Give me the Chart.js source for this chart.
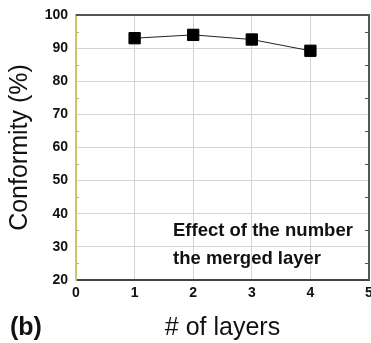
<!DOCTYPE html>
<html><head><meta charset="utf-8">
<script src="https://cdn.jsdelivr.net/npm/chart.js@4/dist/chart.umd.min.js"></script>
<style>html,body{margin:0;padding:0;background:#fff}#wrap{width:371px;height:343px}</style>
</head><body><div id="wrap"><canvas id="c" width="371" height="343"></canvas></div>
<script>
const layers = [1, 2, 3, 4];
const conformity = [93.0, 94.0, 92.6, 89.2];
const xTicks = [0, 1, 2, 3, 4, 5];
const yTicks = [20, 30, 40, 50, 60, 70, 80, 90, 100];
const xTitle = '# of layers';
const yTitle = 'Conformity (%)';
const panelLabel = '(b)';
const noteLines = ['Effect of the number', 'the merged layer'];

const decor = {
  id: 'decor',
  afterDraw(chart) {
    const {ctx, chartArea: a, scales: {x, y}} = chart;
    ctx.save();
    // top and right frame
    ctx.strokeStyle = '#555';
    ctx.lineWidth = 2;
    ctx.beginPath();
    ctx.moveTo(a.left, a.top); ctx.lineTo(a.right, a.top); ctx.lineTo(a.right, a.bottom);
    ctx.stroke();
    // minor ticks
    ctx.lineWidth = 1;
    for (let v = 25; v < 100; v += 10) {
      const py = Math.round(y.getPixelForValue(v)) + 0.5;
      ctx.strokeStyle = '#b8b860';
      ctx.beginPath(); ctx.moveTo(a.left, py); ctx.lineTo(a.left + 3, py); ctx.stroke();
      ctx.strokeStyle = '#555';
      ctx.beginPath(); ctx.moveTo(a.right - 4, py); ctx.lineTo(a.right, py); ctx.stroke();
    }
    // note text
    ctx.fillStyle = '#111';
    ctx.font = 'bold 18.5px "Liberation Sans", Arial, sans-serif';
    ctx.textAlign = 'left';
    ctx.textBaseline = 'middle';
    ctx.fillText(noteLines[0], 173, 231);
    ctx.fillText(noteLines[1], 173, 259);
    // axis titles
    ctx.font = '25px "Liberation Sans", Arial, sans-serif';
    ctx.textAlign = 'center';
    ctx.fillText(xTitle, (a.left + a.right) / 2, 328);
    ctx.save();
    ctx.translate(20, (a.top + a.bottom) / 2);
    ctx.rotate(-Math.PI / 2);
    ctx.fillText(yTitle, 0, 0);
    ctx.restore();
    ctx.font = 'bold 25px "Liberation Sans", Arial, sans-serif';
    ctx.textAlign = 'left';
    ctx.fillText(panelLabel, 10, 328);
    ctx.restore();
  }
};

new Chart(document.getElementById('c'), {
  type: 'line',
  data: {
    datasets: [{
      data: layers.map((l, i) => ({x: l, y: conformity[i]})),
      borderColor: '#222',
      borderWidth: 1,
      pointStyle: 'rect',
      pointRadius: 8,
      pointHoverRadius: 8,
      pointBackgroundColor: '#000',
      pointBorderColor: '#000',
      tension: 0
    }]
  },
  options: {
    responsive: false,
    animation: false,
    devicePixelRatio: 1,
    layout: {autoPadding: false, padding: {top: 15, right: 2, left: 0, bottom: 0}},
    plugins: {legend: {display: false}, tooltip: {enabled: false}},
    scales: {
      x: {
        type: 'linear', min: 0, max: 5,
        afterBuildTicks(s) { s.ticks = xTicks.map(v => ({value: v})); },
        afterFit(s) { s.height = 63; s.paddingLeft = 0; s.paddingRight = 0; },
        grid: {color: '#d4d4d4', lineWidth: 1, drawTicks: false},
        border: {color: '#444', width: 2},
        ticks: {color: '#111', font: {family: '"Liberation Sans", Arial', size: 14, weight: 'bold'}, padding: 5}
      },
      y: {
        min: 20, max: 100,
        afterBuildTicks(s) { s.ticks = yTicks.map(v => ({value: v})); },
        afterFit(s) { s.width = 76; s.paddingTop = 0; s.paddingBottom = 0; },
        grid: {color: '#d4d4d4', lineWidth: 1, drawTicks: false},
        border: {color: '#c8c86a', width: 2},
        ticks: {color: '#111', font: {family: '"Liberation Sans", Arial', size: 14, weight: 'bold'}, padding: 8}
      }
    }
  },
  plugins: [decor]
});
</script></body></html>
